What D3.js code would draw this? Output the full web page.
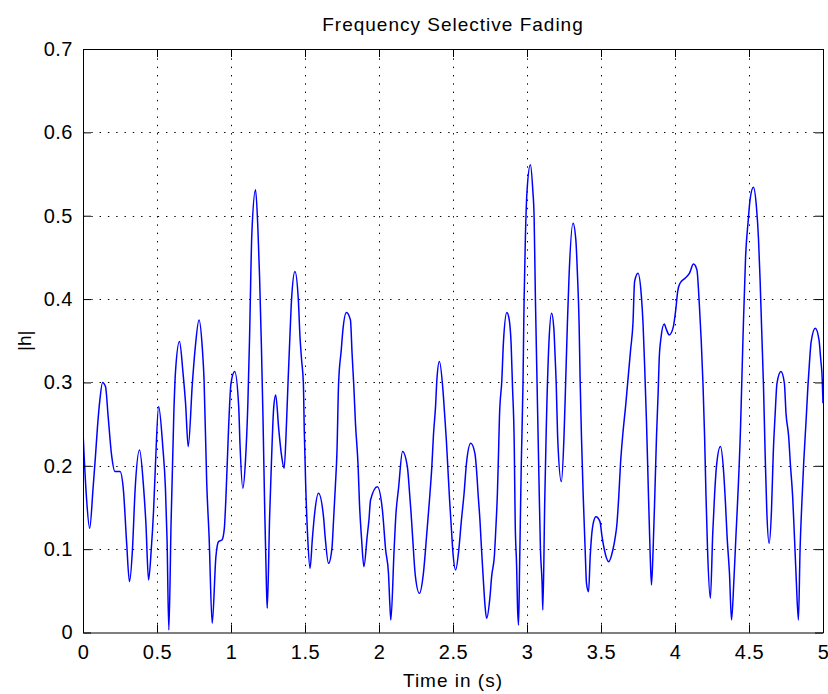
<!DOCTYPE html>
<html>
<head>
<meta charset="utf-8">
<script src="https://cdn.jsdelivr.net/npm/d3@7"></script>
<style>
  html, body { margin: 0; padding: 0; background: #ffffff; }
  svg { display: block; }
  text { font-family: "Liberation Sans", Arial, sans-serif; fill: #000; }
</style>
</head>
<body>
<svg id="chart" width="828" height="694"></svg>
<script>
// ---- data ----
const chartTitle = "Frequency Selective Fading";
const xLabel = "Time in (s)";
const yLabel = "|h|";

const xTicks = [0, 0.5, 1, 1.5, 2, 2.5, 3, 3.5, 4, 4.5, 5];
const xTickLabels = ["0", "0.5", "1", "1.5", "2", "2.5", "3", "3.5", "4", "4.5", "5"];
const yTicks = [0, 0.1, 0.2, 0.3, 0.4, 0.5, 0.6, 0.7];
const yTickLabels = ["0", "0.1", "0.2", "0.3", "0.4", "0.5", "0.6", "0.7"];

const timeValues = [
  0, 0.023, 0.045, 0.068, 0.084, 0.098, 0.114, 0.132, 0.152, 0.170,
  0.193, 0.216, 0.250, 0.273, 0.295, 0.314, 0.334, 0.352, 0.382, 0.409,
  0.425, 0.443, 0.461, 0.477, 0.489, 0.511, 0.539, 0.557, 0.568, 0.580,
  0.595, 0.614, 0.625, 0.652, 0.675, 0.693, 0.711, 0.739, 0.757, 0.784,
  0.807, 0.818, 0.836, 0.852, 0.873, 0.898, 0.916, 0.939, 0.955, 0.966,
  0.984, 1.000, 1.025, 1.052, 1.061, 1.080, 1.098, 1.114, 1.125, 1.141,
  1.166, 1.182, 1.193, 1.205, 1.216, 1.227, 1.239, 1.245, 1.261, 1.273,
  1.289, 1.302, 1.323, 1.341, 1.359, 1.375, 1.386, 1.398, 1.409, 1.432,
  1.455, 1.466, 1.477, 1.489, 1.495, 1.505, 1.518, 1.534, 1.550, 1.564,
  1.591, 1.625, 1.636, 1.659, 1.682, 1.693, 1.705, 1.716, 1.727, 1.745,
  1.755, 1.780, 1.807, 1.818, 1.830, 1.841, 1.859, 1.868, 1.882, 1.898,
  1.920, 1.932, 1.943, 1.989, 2.023, 2.045, 2.064, 2.073, 2.080, 2.102,
  2.114, 2.132, 2.159, 2.193, 2.205, 2.216, 2.227, 2.245, 2.273, 2.300,
  2.323, 2.341, 2.357, 2.368, 2.382, 2.391, 2.408, 2.432, 2.443, 2.455,
  2.466, 2.477, 2.489, 2.500, 2.518, 2.539, 2.557, 2.575, 2.591, 2.620,
  2.648, 2.659, 2.670, 2.682, 2.693, 2.705, 2.716, 2.727, 2.750, 2.761,
  2.780, 2.789, 2.800, 2.807, 2.814, 2.830, 2.841, 2.864, 2.880, 2.893,
  2.902, 2.914, 2.920, 2.930, 2.936, 2.943, 2.950, 2.961, 2.973, 2.980,
  2.989, 3.000, 3.023, 3.039, 3.048, 3.057, 3.068, 3.080, 3.091, 3.102,
  3.107, 3.120, 3.130, 3.148, 3.166, 3.182, 3.189, 3.198, 3.207, 3.232,
  3.250, 3.261, 3.273, 3.284, 3.311, 3.330, 3.341, 3.352, 3.359, 3.368,
  3.380, 3.393, 3.402, 3.416, 3.427, 3.436, 3.450, 3.466, 3.493, 3.507,
  3.523, 3.552, 3.580, 3.595, 3.607, 3.620, 3.632, 3.648, 3.666, 3.682,
  3.700, 3.716, 3.727, 3.750, 3.773, 3.784, 3.795, 3.807, 3.818, 3.830,
  3.841, 3.852, 3.864, 3.875, 3.886, 3.893, 3.905, 3.927, 3.943, 3.961,
  3.989, 4.005, 4.018, 4.034, 4.068, 4.098, 4.125, 4.148, 4.164, 4.177,
  4.189, 4.200, 4.209, 4.220, 4.239, 4.255, 4.268, 4.280, 4.307, 4.330,
  4.341, 4.352, 4.368, 4.382, 4.398, 4.409, 4.443, 4.459, 4.477, 4.495,
  4.507, 4.530, 4.550, 4.564, 4.575, 4.586, 4.598, 4.609, 4.620, 4.636,
  4.652, 4.664, 4.677, 4.689, 4.716, 4.739, 4.750, 4.768, 4.780, 4.795,
  4.807, 4.818, 4.834, 4.845, 4.857, 4.870, 4.886, 4.898, 4.909, 4.920,
  4.948, 4.973, 4.984, 4.995, 5.000
];

const hValues = [
  0.240, 0.163, 0.125, 0.173, 0.211, 0.247, 0.279, 0.300, 0.295, 0.259,
  0.213, 0.193, 0.193, 0.171, 0.107, 0.061, 0.099, 0.171, 0.219, 0.175,
  0.131, 0.063, 0.099, 0.147, 0.199, 0.271, 0.223, 0.173, 0.111, 0.003,
  0.131, 0.265, 0.313, 0.349, 0.313, 0.275, 0.223, 0.299, 0.339, 0.375,
  0.339, 0.303, 0.179, 0.115, 0.011, 0.091, 0.109, 0.111, 0.125, 0.163,
  0.247, 0.299, 0.313, 0.271, 0.225, 0.173, 0.207, 0.275, 0.351, 0.479,
  0.531, 0.483, 0.427, 0.347, 0.259, 0.155, 0.059, 0.029, 0.139, 0.203,
  0.271, 0.285, 0.243, 0.213, 0.197, 0.251, 0.303, 0.355, 0.399, 0.433,
  0.399, 0.355, 0.327, 0.299, 0.243, 0.175, 0.115, 0.077, 0.113, 0.141,
  0.167, 0.139, 0.115, 0.083, 0.101, 0.135, 0.175, 0.217, 0.299, 0.339,
  0.361, 0.384, 0.375, 0.335, 0.295, 0.251, 0.199, 0.155, 0.113, 0.079,
  0.115, 0.135, 0.159, 0.175, 0.147, 0.099, 0.071, 0.035, 0.015, 0.099,
  0.141, 0.173, 0.217, 0.197, 0.171, 0.145, 0.115, 0.069, 0.047, 0.071,
  0.119, 0.159, 0.199, 0.237, 0.271, 0.303, 0.325, 0.291, 0.263, 0.231,
  0.195, 0.159, 0.125, 0.095, 0.075, 0.099, 0.135, 0.167, 0.203, 0.227,
  0.215, 0.195, 0.165, 0.135, 0.099, 0.063, 0.033, 0.017, 0.043, 0.067,
  0.093, 0.123, 0.167, 0.211, 0.259, 0.303, 0.349, 0.384, 0.375, 0.345,
  0.295, 0.223, 0.135, 0.079, 0.031, 0.009, 0.079, 0.199, 0.299, 0.395,
  0.473, 0.529, 0.561, 0.531, 0.499, 0.399, 0.299, 0.191, 0.099, 0.059,
  0.027, 0.159, 0.243, 0.347, 0.383, 0.363, 0.335, 0.295, 0.235, 0.181,
  0.235, 0.299, 0.371, 0.427, 0.491, 0.471, 0.429, 0.371, 0.303, 0.235,
  0.163, 0.099, 0.059, 0.049, 0.091, 0.115, 0.133, 0.139, 0.133, 0.115,
  0.099, 0.085, 0.099, 0.113, 0.129, 0.163, 0.203, 0.239, 0.271, 0.303,
  0.339, 0.371, 0.421, 0.431, 0.403, 0.371, 0.319, 0.255, 0.183, 0.107,
  0.057, 0.099, 0.167, 0.235, 0.287, 0.327, 0.353, 0.370, 0.363, 0.357,
  0.367, 0.387, 0.409, 0.419, 0.425, 0.431, 0.442, 0.435, 0.395, 0.351,
  0.299, 0.235, 0.167, 0.099, 0.041, 0.119, 0.167, 0.199, 0.223, 0.189,
  0.155, 0.115, 0.071, 0.015, 0.063, 0.105, 0.247, 0.351, 0.451, 0.495,
  0.519, 0.534, 0.511, 0.473, 0.423, 0.361, 0.295, 0.215, 0.147, 0.107,
  0.147, 0.215, 0.263, 0.299, 0.313, 0.299, 0.263, 0.235, 0.201, 0.163,
  0.115, 0.069, 0.015, 0.099, 0.155, 0.205, 0.255, 0.295, 0.325, 0.349,
  0.365, 0.351, 0.329, 0.303, 0.275
];

// ---- layout ----
const mLeft = 83, mRight = 823, mTop = 49, mBottom = 632.5;

const svg = d3.select("#chart");
svg.append("rect").attr("width", 828).attr("height", 694).attr("fill", "#ffffff");

const x = d3.scaleLinear().domain([0, 5]).range([mLeft, mRight]);
const y = d3.scaleLinear().domain([0, 0.7]).range([mBottom, mTop]);

// grid (dotted)
const grid = svg.append("g").attr("stroke", "#000").attr("stroke-width", 1)
  .attr("stroke-dasharray", "1.4,6.9").attr("fill", "none");
grid.selectAll("line.gx").data(xTicks.slice(1, -1)).enter().append("line")
  .attr("x1", d => Math.round(x(d)) + 0.5).attr("x2", d => Math.round(x(d)) + 0.5)
  .attr("y1", mBottom).attr("y2", mTop);
grid.selectAll("line.gy").data(yTicks.slice(1, -1)).enter().append("line")
  .attr("y1", d => Math.round(y(d)) + 0.5).attr("y2", d => Math.round(y(d)) + 0.5)
  .attr("x1", mLeft).attr("x2", mRight);

// data line
const pts = timeValues.map((t, i) => [t, hValues[i]]);
svg.append("defs").append("clipPath").attr("id", "clip")
  .append("rect").attr("x", mLeft).attr("y", mTop).attr("width", mRight - mLeft).attr("height", mBottom - mTop);
svg.append("path")
  .datum(pts)
  .attr("clip-path", "url(#clip)")
  .attr("fill", "none")
  .attr("stroke", "#0000ff")
  .attr("stroke-width", 1.5)
  .attr("stroke-linejoin", "round")
  .attr("d", d3.line().x(d => x(d[0])).y(d => y(d[1])).curve(d3.curveMonotoneX));

// axes (MATLAB-style: inward ticks on all four sides)
const tickLen = 8;
const fmtX = (d, i) => xTickLabels[i];
const fmtY = (d, i) => yTickLabels[i];

const gBottom = svg.append("g").attr("transform", `translate(0,${mBottom})`)
  .call(d3.axisBottom(x).tickValues(xTicks).tickFormat(fmtX)
    .tickSizeInner(-tickLen).tickSizeOuter(0).tickPadding(12));
const gTop = svg.append("g").attr("transform", `translate(0,${mTop})`)
  .call(d3.axisTop(x).tickValues(xTicks).tickFormat("")
    .tickSizeInner(-tickLen).tickSizeOuter(0));
const gLeft = svg.append("g").attr("transform", `translate(${mLeft},0)`)
  .call(d3.axisLeft(y).tickValues(yTicks).tickFormat(fmtY)
    .tickSizeInner(-tickLen).tickSizeOuter(0).tickPadding(10));
const gRight = svg.append("g").attr("transform", `translate(${mRight},0)`)
  .call(d3.axisRight(y).tickValues(yTicks).tickFormat("")
    .tickSizeInner(-tickLen).tickSizeOuter(0));

[gBottom, gTop, gLeft, gRight].forEach(g => {
  g.select(".domain").attr("stroke", "#000").attr("stroke-width", 1);
  g.selectAll(".tick line").attr("stroke", "#000").attr("stroke-width", 1);
  g.selectAll("text").attr("font-family", "'Liberation Sans', Arial, sans-serif")
    .attr("font-size", 20).attr("letter-spacing", 0.5).attr("fill", "#000");
});

// title and labels
svg.append("text").attr("x", (mLeft + mRight) / 2).attr("y", 31)
  .attr("text-anchor", "middle").attr("font-size", 19).attr("letter-spacing", 1)
  .text(chartTitle);
svg.append("text").attr("x", (mLeft + mRight) / 2).attr("y", 687)
  .attr("text-anchor", "middle").attr("font-size", 19).attr("letter-spacing", 1)
  .text(xLabel);
svg.append("text").attr("transform", `translate(31,${(mTop + mBottom) / 2}) rotate(-90)`)
  .attr("text-anchor", "middle").attr("font-size", 19)
  .text(yLabel);
</script>
</body>
</html>
